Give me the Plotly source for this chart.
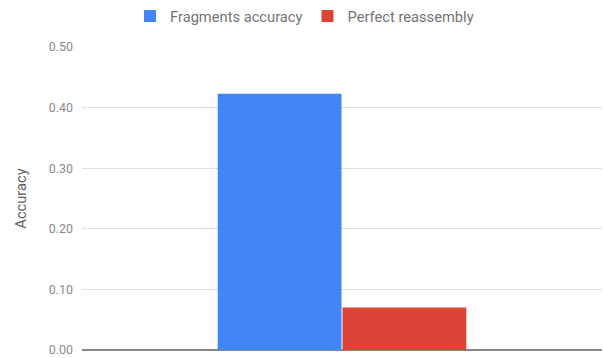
import plotly.graph_objects as go

categories = [""]
fragments_accuracy = [0.423]
perfect_reassembly = [0.07]
y_ticks = [0.0, 0.1, 0.2, 0.3, 0.4, 0.5]
y_tick_labels = ["0.00", "0.10", "0.20", "0.30", "0.40", "0.50"]

fig = go.Figure()
fig.add_trace(go.Bar(x=categories, y=fragments_accuracy, name="Fragments accuracy",
                     marker=dict(color="#4285F4", line=dict(width=0))))
fig.add_trace(go.Bar(x=categories, y=perfect_reassembly, name="Perfect reassembly",
                     marker=dict(color="#DB4437", line=dict(width=0))))

fig.update_layout(
    width=603, height=358,
    margin=dict(l=82, r=1, t=47, b=6),
    paper_bgcolor="white", plot_bgcolor="white",
    font=dict(family="Roboto", color="#757575", size=12),
    barmode="group", bargap=0.52, bargroupgap=0.008,
    showlegend=True,
    legend=dict(orientation="h", xref="container", x=0.505, xanchor="center",
                yref="container", y=1.0, yanchor="top",
                font=dict(size=14.7, color="#757575"), itemwidth=30,
                traceorder="normal"),
    xaxis=dict(showticklabels=False, showgrid=False, zeroline=False, showline=False),
    yaxis=dict(range=[0, 0.5], tickvals=y_ticks, ticktext=y_tick_labels,
               showgrid=True, gridcolor="#e0e0e0", gridwidth=1,
               zeroline=True, zerolinecolor="#888888", zerolinewidth=2,
               ticks="", ticklabelstandoff=8, ticklabeloverflow="allow",
               title=dict(text="Accuracy", font=dict(size=14.7, color="#616161"), standoff=18),
               tickfont=dict(size=12.4, color="#8a8a8a")),
)

fig.write_html("out.html")
